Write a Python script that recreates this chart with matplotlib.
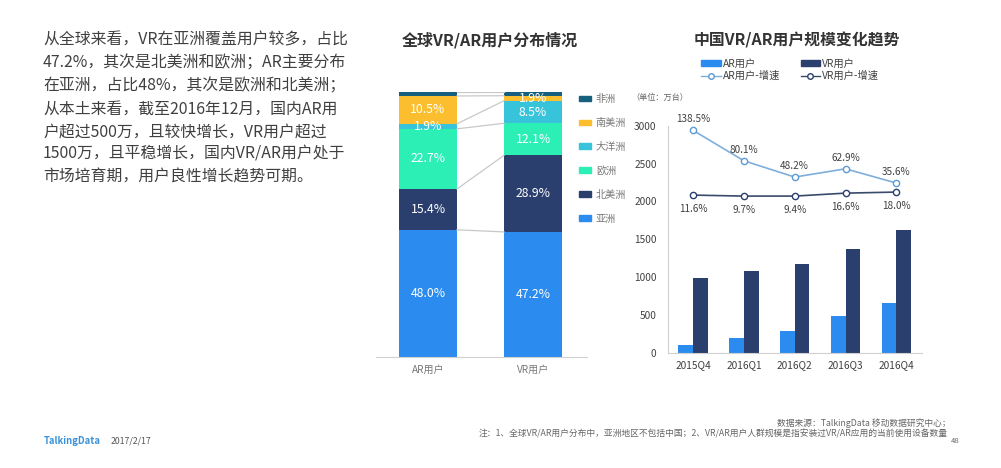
import numpy as np
import matplotlib
matplotlib.use("Agg")
import matplotlib.pyplot as plt
from matplotlib.patches import Patch
from matplotlib.lines import Line2D

plt.rcParams['font.family'] = ['Noto Sans CJK SC', 'DejaVu Sans']

regions = ["亚洲", "北美洲", "欧洲", "大洋洲", "南美洲", "非洲"]
stack_cats = ["AR用户", "VR用户"]
ar_share = [48.0, 15.4, 22.7, 1.9, 10.5, 1.5]
vr_share = [47.2, 28.9, 12.1, 8.5, 1.9, 1.4]
share_colors = ["#2B8BEF", "#2A3F6D", "#2CEFB6", "#37C3DA", "#FBBE2E", "#175F7E"]

quarters = ["2015Q4", "2016Q1", "2016Q2", "2016Q3", "2016Q4"]
ar_users = [105, 198, 290, 492, 664]
vr_users = [985, 1077, 1170, 1368, 1623]
ar_line = [2938, 2537, 2322, 2431, 2243]
vr_line = [2084, 2071, 2071, 2110, 2124]
ar_growth = ["138.5%", "80.1%", "48.2%", "62.9%", "35.6%"]
vr_growth = ["11.6%", "9.7%", "9.4%", "16.6%", "18.0%"]

paragraph = ["从全球来看，VR在亚洲覆盖用户较多，占比",
             "47.2%，其次是北美洲和欧洲；AR主要分布",
             "在亚洲，占比48%，其次是欧洲和北美洲；",
             "从本土来看，截至2016年12月，国内AR用",
             "户超过500万，且较快增长，VR用户超过",
             "1500万，且平稳增长，国内VR/AR用户处于",
             "市场培育期，用户良性增长趋势可期。"]

W, H = 1001, 468
fig = plt.figure(figsize=(W / 100, H / 100), dpi=100)


def px_axes(left, top, right, bottom):
    return fig.add_axes([left / W, 1 - bottom / H, (right - left) / W, (bottom - top) / H])


def px_text(x, y, s, **kw):
    fig.text(x / W, 1 - y / H, s, va="center", **kw)


# left paragraph
for i, line in enumerate(paragraph):
    px_text(43, 40 + i * 22.9, line, fontsize=11.4, color="#404040")

px_text(402, 40, "全球VR/AR用户分布情况", fontsize=11.5, color="#333333", fontweight="bold")
px_text(694, 40, "中国VR/AR用户规模变化趋势", fontsize=11.4, color="#333333", fontweight="bold")

# stacked shares
ax1 = px_axes(376, 92, 587, 357)
width = 0.552
shares = np.array([ar_share, vr_share])
bottoms = np.zeros(2)
for j, region in enumerate(regions):
    ax1.bar([0, 1], shares[:, j], width, bottom=bottoms, color=share_colors[j])
    for k in range(2):
        if j < 5:
            ax1.text(k, bottoms[k] + shares[k, j] / 2, "%.1f%%" % shares[k, j],
                     ha="center", va="center", color="white", fontsize=8.8)
    tops = bottoms + shares[:, j]
    ax1.plot([width / 2, 1 - width / 2], tops, color="#C8C8C8", lw=0.9)
    bottoms = tops
ax1.set_xlim(-0.495, 1.514)
ax1.set_ylim(0, 100)
ax1.set_xticks([0, 1], stack_cats)
ax1.set_yticks([])
ax1.tick_params(axis="x", length=0, labelsize=7.2, labelcolor="#777777", pad=6)
for s in ["top", "left", "right"]:
    ax1.spines[s].set_visible(False)
ax1.spines["bottom"].set_color("#D0D0D0")

handles = [Patch(color=c) for c in share_colors[::-1]]
fig.legend(handles, regions[::-1], loc="upper left", bbox_to_anchor=(571 / W, 1 - 86 / H),
           frameon=False, fontsize=7.3, labelcolor="#777777", labelspacing=1.37,
           handlelength=1.2, handleheight=0.5, handletextpad=0.45, borderpad=0.3)

# user scale
ax2 = px_axes(667.7, 125.7, 921.7, 353)
x = np.arange(len(quarters))
bw = 0.29
ax2.bar(x - bw / 2, ar_users, bw, color=share_colors[0])
ax2.bar(x + bw / 2, vr_users, bw, color=share_colors[1])
ax2.plot(x, ar_line, color="#7FAEDC", lw=1.2, marker="o", ms=4.5, mfc="white", mec="#5B9BD5", mew=1)
ax2.plot(x, vr_line, color="#3A4A6B", lw=1.2, marker="o", ms=4.5, mfc="white", mec="#2A3F6D", mew=1)
for i in range(len(quarters)):
    ax2.annotate(ar_growth[i], (x[i], ar_line[i]), xytext=(0, 4.5), textcoords="offset points",
                 ha="center", va="bottom", fontsize=7.2, color="#404040")
    ax2.annotate(vr_growth[i], (x[i], vr_line[i]), xytext=(0, -6.5), textcoords="offset points",
                 ha="center", va="top", fontsize=7.2, color="#404040")
ax2.set_xlim(-0.5, 4.5)
ax2.set_ylim(0, 3000)
ax2.set_xticks(x, quarters)
ax2.set_yticks([0, 500, 1000, 1500, 2000, 2500, 3000])
ax2.tick_params(axis="x", length=0, labelsize=7.3, labelcolor="#404040", pad=5)
ax2.tick_params(axis="y", length=0, labelsize=7.3, labelcolor="#404040", pad=8)
for s in ["top", "right"]:
    ax2.spines[s].set_visible(False)
ax2.spines["left"].set_color("#D0D0D0")
ax2.spines["bottom"].set_color("#D0D0D0")

legend_handles = [Patch(color=share_colors[0]), Patch(color=share_colors[1]),
                  Line2D([], [], color="#7FAEDC", lw=1, marker="o", ms=4, mfc="white", mec="#5B9BD5"),
                  Line2D([], [], color="#3A4A6B", lw=1, marker="o", ms=4, mfc="white", mec="#2A3F6D")]
legend_labels = ["AR用户", "VR用户", "AR用户-增速", "VR用户-增速"]
fig.legend([legend_handles[0], legend_handles[2], legend_handles[1], legend_handles[3]],
           [legend_labels[0], legend_labels[2], legend_labels[1], legend_labels[3]],
           ncol=2, loc="upper left", bbox_to_anchor=(700 / W, 1 - 58 / H), frameon=False,
           fontsize=7.4, labelcolor="#404040", labelspacing=0.15, columnspacing=2.0,
           handlelength=1.9, handleheight=0.5, handletextpad=0.2, borderpad=0.1, borderaxespad=0)

px_text(631, 97, "（单位：万台）", fontsize=5.9, color="#666666")

# footer
px_text(44, 441, "TalkingData", fontsize=6.8, color="#3C92D8", fontweight="bold")
px_text(111, 441, "2017/2/17", fontsize=6.3, color="#555555")
fig.text(951 / W, 1 - 423 / H, "数据来源：TalkingData 移动数据研究中心；", ha="right", va="center",
         fontsize=6.3, color="#666666")
fig.text(948 / W, 1 - 434 / H, "注：1、全球VR/AR用户分布中，亚洲地区不包括中国；2、VR/AR用户人群规模是指安装过VR/AR应用的当前使用设备数量",
         ha="right", va="center", fontsize=6.3, color="#666666")
fig.text(960 / W, 1 - 441 / H, "48", ha="right", va="center", fontsize=5.5, color="#666666")

fig.savefig("out.png", dpi=100)
